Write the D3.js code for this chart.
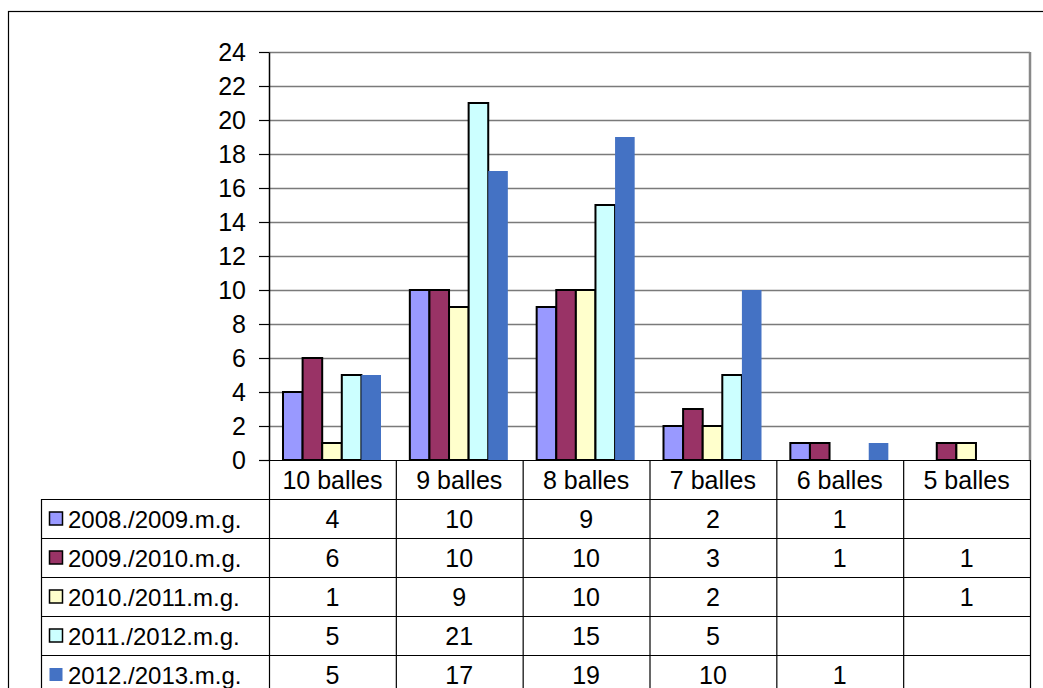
<!DOCTYPE html>
<html>
<head>
<meta charset="utf-8">
<script src="https://cdn.jsdelivr.net/npm/d3@7"></script>
<style>
  body { margin: 0; background: #fff; }
  svg text { font-family: "Liberation Sans", Arial, sans-serif; }
</style>
</head>
<body>
<div id="chart"></div>
<script>
var categories = ["10 balles", "9 balles", "8 balles", "7 balles", "6 balles", "5 balles"];
var seriesNames = ["2008./2009.m.g.", "2009./2010.m.g.", "2010./2011.m.g.", "2011./2012.m.g.", "2012./2013.m.g."];
var s2008 = [4, 10, 9, 2, 1, null];
var s2009 = [6, 10, 10, 3, 1, 1];
var s2010 = [1, 9, 10, 2, null, 1];
var s2011 = [5, 21, 15, 5, null, null];
var s2012 = [5, 17, 19, 10, 1, null];
var yTicks = [0, 2, 4, 6, 8, 10, 12, 14, 16, 18, 20, 22, 24];

var seriesValues = [s2008, s2009, s2010, s2011, s2012];
var colors = ["#9999ff", "#993366", "#ffffcc", "#ccffff", "#4472c4"];
var strokes = ["#000", "#000", "#000", "#000", "none"];

function init() {
    var w = 1043, h = 688;
    var left = 269, right = 1030, top = 52, bottom = 460;
    var tableLeft = 41, rowH = 39;

    var svg = d3.select("#chart").append("svg")
        .attr("width", w)
        .attr("height", h);

    // outer chart border
    svg.append("rect")
        .attr("x", 8.5).attr("y", 11.5)
        .attr("width", 1200).attr("height", 900)
        .attr("fill", "#fff").attr("stroke", "#000").attr("stroke-width", 1.2);

    var x = d3.scaleBand().domain(categories).range([left, right]);
    var xInner = d3.scaleBand().domain(d3.range(seriesNames.length)).range([14, 14 + 98]);
    var y = d3.scaleLinear().domain([0, 24]).range([bottom, top]);

    // gridlines
    svg.append("g").selectAll("line")
        .data(yTicks.filter(function(d) { return d > 0; }))
        .enter().append("line")
        .attr("x1", left).attr("x2", right)
        .attr("y1", function(d) { return Math.round(y(d)) + 0.5; })
        .attr("y2", function(d) { return Math.round(y(d)) + 0.5; })
        .attr("stroke", "#7a7a7a").attr("stroke-width", 1.5);

    // plot right border
    svg.append("line")
        .attr("x1", right).attr("x2", right)
        .attr("y1", top).attr("y2", bottom)
        .attr("stroke", "#888").attr("stroke-width", 2.5);

    // bars
    seriesValues.forEach(function(vals, si) {
        svg.append("g").selectAll("rect")
            .data(vals.map(function(v, i) { return {cat: categories[i], v: v}; })
                      .filter(function(d) { return d.v !== null; }))
            .enter().append("rect")
            .attr("x", function(d) { return x(d.cat) + xInner(si); })
            .attr("y", function(d) { return y(d.v); })
            .attr("width", xInner.bandwidth())
            .attr("height", function(d) { return y(0) - y(d.v); })
            .attr("fill", colors[si])
            .attr("stroke", strokes[si])
            .attr("stroke-width", 2);
    });

    // y axis
    var yAxis = svg.append("g")
        .attr("transform", "translate(" + left + ",0)")
        .call(d3.axisLeft(y).tickValues(yTicks).tickSize(10).tickPadding(13).tickSizeOuter(0));
    yAxis.select(".domain").attr("stroke", "#000").attr("stroke-width", 1.5);
    yAxis.selectAll(".tick line").attr("stroke", "#000").attr("stroke-width", 1.2);
    yAxis.selectAll("text")
        .attr("font-size", 25).attr("fill", "#000")
        .attr("font-family", "Liberation Sans, Arial, sans-serif");

    // data table
    var tbl = svg.append("g").attr("stroke", "#000").attr("stroke-width", 1.2);
    var nRows = seriesNames.length;
    var tableBottom = bottom + rowH * (nRows + 1) + 20;
    // horizontal lines
    tbl.append("line").attr("x1", left).attr("x2", right)
        .attr("y1", bottom + 0.5).attr("y2", bottom + 0.5);
    for (var r = 1; r <= nRows; r++) {
        tbl.append("line").attr("x1", tableLeft).attr("x2", right)
            .attr("y1", bottom + r * rowH + 0.5).attr("y2", bottom + r * rowH + 0.5);
    }
    // vertical lines
    tbl.append("line").attr("x1", tableLeft + 0.5).attr("x2", tableLeft + 0.5)
        .attr("y1", bottom + rowH).attr("y2", tableBottom);
    categories.forEach(function(c) {
        tbl.append("line").attr("x1", x(c) + 0.5).attr("x2", x(c) + 0.5)
            .attr("y1", bottom).attr("y2", tableBottom);
    });
    tbl.append("line").attr("x1", right + 0.5).attr("x2", right + 0.5)
        .attr("y1", bottom).attr("y2", tableBottom);

    // header texts
    svg.append("g").selectAll("text")
        .data(categories).enter().append("text")
        .attr("x", function(d) { return x(d) + x.bandwidth() / 2; })
        .attr("y", bottom + rowH / 2 + 9)
        .attr("text-anchor", "middle")
        .attr("font-size", 25)
        .text(function(d) { return d; });

    // rows
    seriesNames.forEach(function(name, si) {
        var ry = bottom + (si + 1) * rowH;
        var row = svg.append("g");
        row.append("rect")
            .attr("x", 49.5).attr("y", ry + rowH / 2 - 6.5)
            .attr("width", 13).attr("height", 13)
            .attr("fill", colors[si])
            .attr("stroke", strokes[si]).attr("stroke-width", 1.5);
        row.append("text")
            .attr("x", 68).attr("y", ry + rowH / 2 + 9)
            .attr("font-size", 24)
            .text(name);
        row.selectAll("text.v")
            .data(seriesValues[si].map(function(v, i) { return {cat: categories[i], v: v}; })
                      .filter(function(d) { return d.v !== null; }))
            .enter().append("text")
            .attr("class", "v")
            .attr("x", function(d) { return x(d.cat) + x.bandwidth() / 2; })
            .attr("y", ry + rowH / 2 + 9)
            .attr("text-anchor", "middle")
            .attr("font-size", 25)
            .text(function(d) { return d.v; });
    });
}

window.onload = init;
</script>
</body>
</html>
